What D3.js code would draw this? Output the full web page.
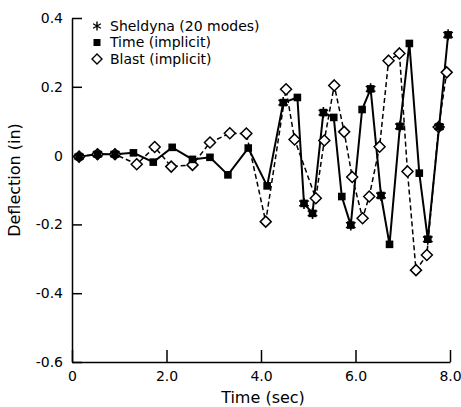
<!DOCTYPE html>
<html>
<head>
<meta charset="utf-8">
<script src="https://cdn.jsdelivr.net/npm/d3@7"></script>
<style>
  body { margin: 0; background: #fff; }
  svg { display: block; font-family: "DejaVu Sans", sans-serif; }
</style>
</head>
<body>
<svg id="chart" width="461" height="407"></svg>
<script>
// time (sec) and deflection (in)
const timeT = [0.15, 0.54, 0.91, 1.30, 1.72, 2.12, 2.55, 2.92, 3.30, 3.73, 4.13, 4.47, 4.77, 4.91, 5.09,
               5.32, 5.54, 5.71, 5.90, 6.14, 6.32, 6.54, 6.72, 6.94, 7.14, 7.35, 7.53, 7.77, 7.96];
const timeV = [-0.003, 0.004, 0.004, 0.008, -0.019, 0.024, -0.011, -0.005, -0.056, 0.022, -0.088, 0.154, 0.169, -0.139, -0.168,
               0.125, 0.111, -0.119, -0.202, 0.134, 0.194, -0.116, -0.258, 0.085, 0.326, -0.051, -0.243, 0.084, 0.351];

const blastT = [0.15, 0.54, 0.91, 1.37, 1.75, 2.10, 2.55, 2.92, 3.34, 3.69, 4.10, 4.53, 4.71, 5.16,
                5.34, 5.55, 5.76, 5.93, 6.15, 6.29, 6.51, 6.70, 6.93, 7.10, 7.28, 7.51, 7.76, 7.93];
const blastV = [-0.003, 0.004, 0.004, -0.025, 0.025, -0.032, -0.027, 0.038, 0.065, 0.064, -0.192, 0.193, 0.047, -0.124,
                0.044, 0.204, 0.069, -0.062, -0.182, -0.119, 0.026, 0.276, 0.297, -0.046, -0.333, -0.289, 0.083, 0.242];

const sheldT = [0.15, 0.54, 0.91, 4.47, 4.91, 5.09, 5.32, 5.90, 6.32, 6.54, 6.94, 7.53, 7.77, 7.96];
const sheldV = [-0.003, 0.004, 0.004, 0.154, -0.139, -0.168, 0.125, -0.202, 0.194, -0.116, 0.085, -0.243, 0.084, 0.351];

const xTicks = [0, 2, 4, 6, 8];
const yTicks = [-0.6, -0.4, -0.2, 0, 0.2, 0.4];
const legendLabels = ["Sheldyna (20 modes)", "Time (implicit)", "Blast (implicit)"];

const svg = d3.select("#chart");

const x = d3.scaleLinear().domain([0, 8]).range([72, 450]);
const y = d3.scaleLinear().domain([-0.6, 0.4]).range([362, 18]);

// custom symbols, size = radius
const diamond = {
  draw(ctx, r) {
    ctx.moveTo(0, -r); ctx.lineTo(r, 0); ctx.lineTo(0, r); ctx.lineTo(-r, 0); ctx.closePath();
  }
};
const asterisk = {
  draw(ctx, r) {
    for (let a = 0; a < 3; a++) {
      const ang = Math.PI / 2 + a * Math.PI / 3;
      ctx.moveTo(r * Math.cos(ang), r * Math.sin(ang));
      ctx.lineTo(-r * Math.cos(ang), -r * Math.sin(ang));
    }
  }
};
const square = {
  draw(ctx, r) { ctx.rect(-r, -r, 2 * r, 2 * r); }
};

// axes
const fmt = d => d === 0 ? "0" : d.toFixed(1);

const gx = svg.append("g")
  .attr("transform", "translate(0," + y(-0.6) + ")")
  .call(d3.axisBottom(x).tickValues(xTicks).tickFormat(fmt).tickSize(-12).tickSizeOuter(0).tickPadding(9));

const gy = svg.append("g")
  .attr("transform", "translate(" + x(0) + ",0)")
  .call(d3.axisLeft(y).tickValues(yTicks).tickFormat(fmt).tickSize(-10).tickSizeOuter(0).tickPadding(9));

[gx, gy].forEach(g => {
  g.selectAll("path, line").attr("stroke", "#000").attr("stroke-width", 1.5);
  g.selectAll("text").attr("fill", "#000").style("font-size", "14px").style("font-family", "DejaVu Sans, sans-serif");
});

svg.append("text")
  .attr("x", 263).attr("y", 403)
  .attr("text-anchor", "middle")
  .style("font-size", "16px")
  .text("Time (sec)");

svg.append("text")
  .attr("transform", "translate(20,180) rotate(-90)")
  .attr("text-anchor", "middle")
  .style("font-size", "16px")
  .text("Deflection (in)");

// lines
const line = d3.line().x(d => x(d[0])).y(d => y(d[1]));
const blastData = blastT.map((t, i) => [t, blastV[i]]);
const timeData = timeT.map((t, i) => [t, timeV[i]]);
const sheldData = sheldT.map((t, i) => [t, sheldV[i]]);

svg.append("path")
  .datum(blastData)
  .attr("d", line)
  .attr("fill", "none")
  .attr("stroke", "#000")
  .attr("stroke-width", 1.5)
  .attr("stroke-dasharray", "5,3");

svg.append("path")
  .datum(timeData)
  .attr("d", line)
  .attr("fill", "none")
  .attr("stroke", "#000")
  .attr("stroke-width", 2);

// markers
svg.append("g").selectAll("path")
  .data(blastData)
  .enter()
  .append("path")
  .attr("transform", d => "translate(" + x(d[0]) + "," + y(d[1]) + ")")
  .attr("d", d3.symbol().type(diamond).size(5.5))
  .attr("fill", "#fff")
  .attr("stroke", "#000")
  .attr("stroke-width", 1.5);

svg.append("g").selectAll("path")
  .data(timeData)
  .enter()
  .append("path")
  .attr("transform", d => "translate(" + x(d[0]) + "," + y(d[1]) + ")")
  .attr("d", d3.symbol().type(square).size(3.8))
  .attr("fill", "#000");

svg.append("g").selectAll("path")
  .data(sheldData)
  .enter()
  .append("path")
  .attr("transform", d => "translate(" + x(d[0]) + "," + y(d[1]) + ")")
  .attr("d", d3.symbol().type(asterisk).size(5.5))
  .attr("fill", "none")
  .attr("stroke", "#000")
  .attr("stroke-width", 1.6);

// legend
const legendSymbols = [
  { type: asterisk, r: 4.5, fill: "none", stroke: "#000" },
  { type: square, r: 3.5, fill: "#000", stroke: "none" },
  { type: diamond, r: 5, fill: "#fff", stroke: "#000" }
];

const legend = svg.append("g").attr("transform", "translate(97,26)");
legendLabels.forEach((label, i) => {
  const row = legend.append("g").attr("transform", "translate(0," + (i * 16.5) + ")");
  const s = legendSymbols[i];
  row.append("path")
    .attr("d", d3.symbol().type(s.type).size(s.r))
    .attr("fill", s.fill)
    .attr("stroke", s.stroke)
    .attr("stroke-width", 1.4);
  row.append("text")
    .attr("x", 13)
    .attr("dy", "0.35em")
    .style("font-size", "14px")
    .text(label);
});
</script>
</body>
</html>
